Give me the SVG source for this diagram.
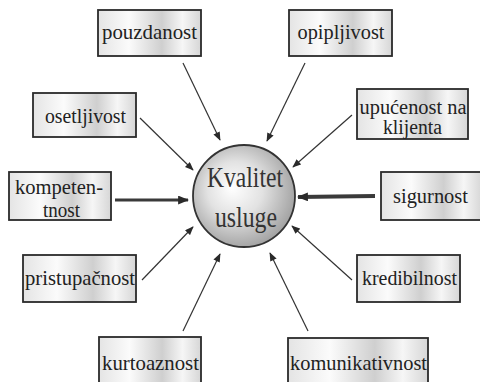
<svg xmlns="http://www.w3.org/2000/svg" width="480" height="382" viewBox="0 0 480 382">
<defs>
<linearGradient id="boxg" x1="0" y1="0" x2="1" y2="0">
<stop offset="0" stop-color="#e4e4e4"/>
<stop offset="0.3" stop-color="#fbfbfb"/>
<stop offset="0.62" stop-color="#cfcfcf"/>
<stop offset="0.82" stop-color="#f6f6f6"/>
<stop offset="1" stop-color="#d6d6d6"/>
</linearGradient>
<radialGradient id="circg" cx="0.45" cy="0.45" r="0.6" fx="0.38" fy="0.42">
<stop offset="0" stop-color="#ffffff"/>
<stop offset="0.45" stop-color="#e2e2e2"/>
<stop offset="1" stop-color="#9c9c9c"/>
</radialGradient>
<marker id="ah" viewBox="0 0 10 8" refX="9" refY="4" markerWidth="9" markerHeight="7" markerUnits="userSpaceOnUse" orient="auto">
<path d="M0,0 L10,4 L0,8 z" fill="#2a2a2a"/>
</marker>
<marker id="ahb" viewBox="0 0 10 8" refX="9" refY="4" markerWidth="11" markerHeight="9" markerUnits="userSpaceOnUse" orient="auto">
<path d="M0,0 L10,4 L0,8 z" fill="#2a2a2a"/>
</marker>
</defs>
<style>
.box{fill:url(#boxg);stroke:#2a2a2a;stroke-width:1.8}
.t{font-size:22px;fill:#222;text-anchor:middle}
.s{font-size:20px}
.c{font-size:29px;fill:#333;text-anchor:middle}
.ln{stroke:#333;stroke-width:1.2;fill:none;marker-end:url(#ah)}
.lnb{stroke:#3a3a3a;fill:none;marker-end:url(#ahb)}
</style>
<rect width="480" height="382" fill="#ffffff"/>
<g id="connectors">
<line class="ln" x1="183" y1="63" x2="220" y2="140"/>
<line class="ln" x1="305" y1="63" x2="267" y2="141"/>
<line class="ln" x1="140" y1="118" x2="193" y2="170"/>
<line class="ln" x1="352" y1="115" x2="293" y2="167"/>
<line class="lnb" stroke-width="3" x1="115" y1="200" x2="188" y2="200"/>
<line class="lnb" stroke-width="4" x1="375" y1="196" x2="298" y2="197"/>
<line class="ln" x1="142" y1="280" x2="193" y2="227"/>
<line class="ln" x1="352" y1="280" x2="292" y2="226"/>
<line class="ln" x1="183" y1="331" x2="220" y2="254"/>
<line class="ln" x1="308" y1="331" x2="270" y2="253"/>
</g>
<g font-family="'Liberation Serif', Tinos, 'Times New Roman', 'Nimbus Roman', 'DejaVu Serif', 'Noto Serif', FreeSerif, serif">
<g id="center">
<circle cx="244" cy="196" r="51" fill="url(#circg)" stroke="#333" stroke-width="1.8"/>
<text class="c" x="245" y="187" textLength="76" lengthAdjust="spacingAndGlyphs">Kvalitet</text>
<text class="c" x="246" y="227" textLength="62" lengthAdjust="spacingAndGlyphs">usluge</text>
</g>
<g id="pouzdanost">
<rect class="box" x="98" y="10" width="103" height="46"/>
<text class="t" x="149.5" y="39" textLength="95" lengthAdjust="spacingAndGlyphs">pouzdanost</text>
</g>
<g id="opipljivost">
<rect class="box" x="289" y="10" width="103" height="46"/>
<text class="t" x="341" y="39" textLength="87" lengthAdjust="spacingAndGlyphs">opipljivost</text>
</g>
<g id="osetljivost">
<rect class="box" x="33" y="93" width="103" height="44"/>
<text class="t" x="85.5" y="123" textLength="81" lengthAdjust="spacingAndGlyphs">osetljivost</text>
</g>
<g id="upucenost">
<rect class="box" x="357" y="89" width="111" height="50"/>
<text class="t s" x="413" y="114" textLength="107" lengthAdjust="spacingAndGlyphs">upućenost na</text>
<text class="t s" x="412.5" y="134" textLength="59" lengthAdjust="spacingAndGlyphs">klijenta</text>
</g>
<g id="kompetentnost">
<rect class="box" x="9" y="172" width="102" height="48"/>
<text class="t" x="59" y="194" textLength="88" lengthAdjust="spacingAndGlyphs">kompeten-</text>
<text class="t" x="61.5" y="217" textLength="37" lengthAdjust="spacingAndGlyphs">tnost</text>
</g>
<g id="sigurnost">
<rect class="box" x="381" y="172" width="101" height="48"/>
<text class="t" x="430.5" y="203" textLength="75" lengthAdjust="spacingAndGlyphs">sigurnost</text>
</g>
<g id="pristupacnost">
<rect class="box" x="23" y="255" width="113" height="47"/>
<text class="t" x="80" y="285" textLength="110" lengthAdjust="spacingAndGlyphs">pristupačnost</text>
</g>
<g id="kredibilnost">
<rect class="box" x="357" y="255" width="103" height="47"/>
<text class="t" x="409.5" y="285" textLength="95" lengthAdjust="spacingAndGlyphs">kredibilnost</text>
</g>
<g id="kurtoaznost">
<rect class="box" x="99" y="337" width="102" height="52"/>
<text class="t" x="150.5" y="370" textLength="97" lengthAdjust="spacingAndGlyphs">kurtoaznost</text>
</g>
<g id="komunikativnost">
<rect class="box" x="288" y="338" width="140" height="51"/>
<text class="t" x="358.5" y="370" textLength="137" lengthAdjust="spacingAndGlyphs">komunikativnost</text>
</g>
</g>
</svg>
